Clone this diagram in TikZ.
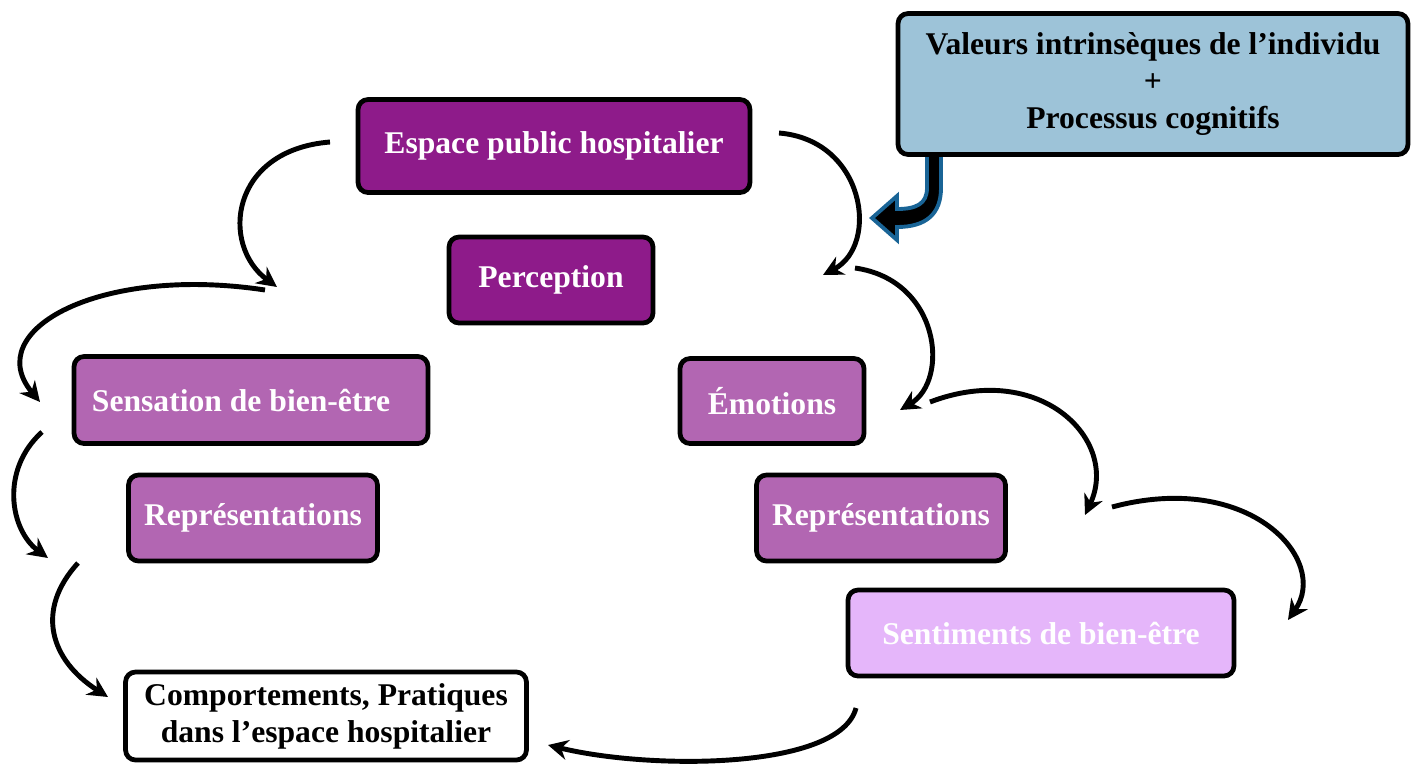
\documentclass[tikz,border=0pt]{standalone}
\usepackage{fontspec}
\setmainfont{Liberation Serif}
\usetikzlibrary{arrows.meta}
\definecolor{darkviolet}{RGB}{142,27,138}
\definecolor{midviolet}{RGB}{178,102,178}
\definecolor{lightviolet}{RGB}{229,182,250}
\definecolor{valeurblue}{RGB}{157,195,216}
\definecolor{fatblue}{RGB}{25,100,150}
\begin{document}
\begin{tikzpicture}[x=0.02cm, y=-0.02cm,
                    box/.style={draw=black, line width=2.7pt, rounded corners=0.2cm,
                                font=\bfseries\fontsize{18}{21}\selectfont, align=center,
                                text=white, inner sep=0pt},
                    cycle/.style={-{Stealth[length=0.4cm, width=0.4cm]}, line width=2.8pt}]
  \useasboundingbox (0,0) rectangle (1417,765);

  \path[fill=black, draw=fatblue, line width=2.2pt, line join=miter]
    (927,150) -- (927,188) .. controls (927,204) and (916,209) .. (897,209)
    -- (897,196) -- (872,218) -- (897,240) -- (897,227)
    .. controls (926,227) and (941,214) .. (941,188) -- (941,150) -- cycle;

  \node[box, fill=valeurblue, text=black, minimum width=10.2cm, minimum height=2.82cm]
    (valeurs) at (1153,84) {Valeurs intrinsèques de l’individu\\+\\Processus cognitifs};
  \node[box, fill=darkviolet, minimum width=7.84cm, minimum height=1.86cm]
    (espace) at (554,146) {Espace public hospitalier};
  \node[box, fill=darkviolet, minimum width=4.08cm, minimum height=1.72cm]
    (perception) at (551,280) {Perception};
  \node[box, fill=midviolet, minimum width=7.08cm, minimum height=1.74cm]
    (sensation) at (251,400) {Sensation de bien-être\hspace{0.4cm}};
  \node[box, fill=midviolet, minimum width=4.98cm, minimum height=1.72cm]
    (repgauche) at (253,518) {Représentations};
  \node[box, fill=midviolet, minimum width=3.68cm, minimum height=1.70cm]
    (emotions) at (772,401) {Émotions};
  \node[box, fill=midviolet, minimum width=4.98cm, minimum height=1.72cm]
    (repdroite) at (881,518) {Représentations};
  \node[box, fill=lightviolet, minimum width=7.72cm, minimum height=1.72cm]
    (sentiments) at (1041,633) {Sentiments de bien-être};
  \node[box, fill=white, text=black, minimum width=8.02cm, minimum height=1.76cm]
    (comportements) at (326,716) {Comportements, Pratiques\\dans l’espace hospitalier};

  \coordinate (g1a) at (330,142);  \coordinate (g1b) at (277,287);
  \coordinate (g2a) at (265,290);  \coordinate (g2b) at (40,402);
  \coordinate (g3a) at (42,432);   \coordinate (g3b) at (48,558);
  \coordinate (g4a) at (78,563);   \coordinate (g4b) at (108,697);
  \coordinate (d1a) at (779,133);  \coordinate (d1b) at (823,275);
  \coordinate (d2a) at (855,268);  \coordinate (d2b) at (900,410);
  \coordinate (d3a) at (930,402);  \coordinate (d3b) at (1085,515);
  \coordinate (d4a) at (1112,507); \coordinate (d4b) at (1288,620);
  \coordinate (retoura) at (856,708); \coordinate (retourb) at (548,745);

  \draw[cycle] (g1a) .. controls (230,150) and (220,245) .. (g1b);
  \draw[cycle] (g2a) .. controls (100,265) and (-20,330) .. (g2b);
  \draw[cycle] (g3a) .. controls (0,470) and (10,530) .. (g3b);
  \draw[cycle] (g4a) .. controls (35,610) and (50,660) .. (g4b);
  \draw[cycle] (d1a) .. controls (865,140) and (880,245) .. (d1b);
  \draw[cycle] (d2a) .. controls (940,280) and (950,380) .. (d2b);
  \draw[cycle] (d3a) .. controls (1040,360) and (1120,440) .. (d3b);
  \draw[cycle] (d4a) .. controls (1250,470) and (1330,560) .. (d4b);
  \draw[cycle] (retoura) .. controls (840,770) and (650,770) .. (retourb);
\end{tikzpicture}
\end{document}
